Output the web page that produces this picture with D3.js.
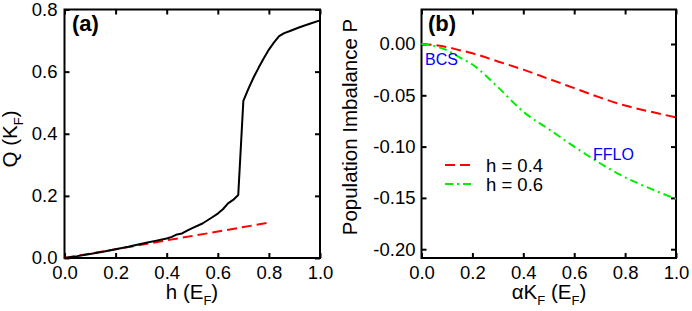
<!DOCTYPE html>
<html>
<head>
<meta charset="utf-8">
<script src="https://cdn.jsdelivr.net/npm/d3@7"></script>
<style>
  html, body { margin: 0; padding: 0; background: #fff; }
  svg { display: block; font-family: "Liberation Sans", Arial, Helvetica, sans-serif; }
</style>
</head>
<body>
<svg id="chart" width="692" height="311"></svg>
<script>
// ---- Data: panel (a) ----
const hBlack = [0, 0.05, 0.1, 0.15, 0.2, 0.25, 0.28, 0.32, 0.36, 0.4, 0.42, 0.44, 0.46, 0.48, 0.5, 0.54, 0.58, 0.6, 0.62, 0.64, 0.66, 0.68, 0.70, 0.72, 0.74, 0.76, 0.78, 0.80, 0.82, 0.84, 0.86, 0.88, 0.92, 0.96, 1.0];
const qBlack = [0, 0.006, 0.013, 0.020, 0.028, 0.036, 0.042, 0.049, 0.056, 0.063, 0.068, 0.076, 0.079, 0.088, 0.096, 0.111, 0.132, 0.143, 0.157, 0.176, 0.187, 0.203, 0.506, 0.545, 0.581, 0.613, 0.643, 0.671, 0.694, 0.714, 0.724, 0.730, 0.743, 0.754, 0.765];
const hRed = [0, 0.2, 0.4, 0.6, 0.8];
const qRed = [0, 0.028, 0.057, 0.085, 0.114];
const aXTicks = [0, 0.2, 0.4, 0.6, 0.8, 1.0];
const aXLabels = ["0.0", "0.2", "0.4", "0.6", "0.8", "1.0"];
const aYTicks = [0, 0.2, 0.4, 0.6, 0.8];
const aYLabels = ["0.0", "0.2", "0.4", "0.6", "0.8"];

// ---- Data: panel (b) ----
const alphaK = [0, 0.05, 0.1, 0.15, 0.2, 0.3, 0.4, 0.5, 0.6, 0.7, 0.8, 0.9, 1.0];
const pH04 = [0, -0.001, -0.003, -0.006, -0.009, -0.017, -0.025, -0.034, -0.043, -0.052, -0.060, -0.066, -0.0715];
const pH06 = [0, -0.002, -0.006, -0.013, -0.020, -0.042, -0.066, -0.083, -0.100, -0.116, -0.130, -0.141, -0.151];
const bXTicks = [0, 0.2, 0.4, 0.6, 0.8, 1.0];
const bXLabels = ["0.0", "0.2", "0.4", "0.6", "0.8", "1.0"];
const bYTicks = [0, -0.05, -0.10, -0.15, -0.20];
const bYLabels = ["0.00", "-0.05", "-0.10", "-0.15", "-0.20"];
const legendLabels = ["h = 0.4", "h = 0.6"];

const RED = "#ff0000", GREEN = "#00ee00", BLUE = "#0000ff";
const TICKFONT = 18.5, TITLEFONT = 20.5;

const svg = d3.select("#chart");

function framePanel(g, x, y, xt, xl, yt, yl, ypad) {
  const [x0, x1] = x.range();
  const [y0, y1] = y.range(); // y0 bottom, y1 top
  const bottom = g.append("g").attr("transform", `translate(0,${y0})`)
    .call(d3.axisBottom(x).tickValues(xt).tickFormat((d, i) => xl[i]).tickSize(-5).tickPadding(8));
  const top = g.append("g").attr("transform", `translate(0,${y1})`)
    .call(d3.axisTop(x).tickValues(xt).tickFormat("").tickSize(-5));
  const left = g.append("g").attr("transform", `translate(${x0},0)`)
    .call(d3.axisLeft(y).tickValues(yt).tickFormat((d, i) => yl[i]).tickSize(-5).tickPadding(ypad));
  const right = g.append("g").attr("transform", `translate(${x1},0)`)
    .call(d3.axisRight(y).tickValues(yt).tickFormat("").tickSize(-5));
  [bottom, top, left, right].forEach(a => {
    a.select(".domain").remove();
    a.selectAll("line").attr("stroke", "#000").attr("stroke-width", 2);
    a.selectAll("text").attr("font-size", TICKFONT).attr("fill", "#000").attr("font-family", null);
  });
  g.append("rect").attr("x", x0).attr("y", y1).attr("width", x1 - x0).attr("height", y0 - y1)
    .attr("fill", "none").attr("stroke", "#000").attr("stroke-width", 2);
}

// ---- Panel (a) ----
const ga = svg.append("g");
const xa = d3.scaleLinear().domain([0, 1]).range([64.5, 320]);
const ya = d3.scaleLinear().domain([0, 0.8]).range([258, 9.5]);
framePanel(ga, xa, ya, aXTicks, aXLabels, aYTicks, aYLabels, 7);

const lineA = d3.line().x(d => xa(d[0])).y(d => ya(d[1]));
ga.append("path").datum(hRed.map((h, i) => [h, qRed[i]]))
  .attr("d", lineA).attr("fill", "none").attr("stroke", RED).attr("stroke-width", 2)
  .attr("stroke-dasharray", "10,5");
ga.append("path").datum(hBlack.map((h, i) => [h, qBlack[i]]))
  .attr("d", lineA).attr("fill", "none").attr("stroke", "#000").attr("stroke-width", 2)
  .attr("stroke-linejoin", "round");

ga.append("text").attr("x", 72).attr("y", 31).attr("font-size", 22).attr("font-weight", "bold").text("(a)");

// axis titles (a)
const ta = ga.append("text").attr("x", 192).attr("y", 299).attr("text-anchor", "middle").attr("font-size", TITLEFONT);
ta.append("tspan").text("h (E");
ta.append("tspan").attr("font-size", 13).attr("dy", 6).text("F");
ta.append("tspan").attr("dy", -6).text(")");

const tqa = ga.append("text").attr("transform", "translate(16.5,139) rotate(-90)").attr("text-anchor", "middle").attr("font-size", TITLEFONT);
tqa.append("tspan").text("Q (K");
tqa.append("tspan").attr("font-size", 13).attr("dy", 6).text("F");
tqa.append("tspan").attr("dy", -6).text(")");

// ---- Panel (b) ----
const gb = svg.append("g");
const xb = d3.scaleLinear().domain([0, 1]).range([421.5, 676]);
const yb = d3.scaleLinear().domain([-0.2, 0]).range([249.2, 44]);
const ybFull = d3.scaleLinear().domain([yb.invert(258), yb.invert(9.5)]).range([258, 9.5]);
framePanel(gb, xb, ybFull, bXTicks, bXLabels, bYTicks, bYLabels, 6);

const lineB = d3.line().x(d => xb(d[0])).y(d => ybFull(d[1])).curve(d3.curveMonotoneX);
gb.append("path").datum(alphaK.map((a, i) => [a, pH04[i]]))
  .attr("d", lineB).attr("fill", "none").attr("stroke", RED).attr("stroke-width", 2)
  .attr("stroke-dasharray", "10,5");
gb.append("path").datum(alphaK.map((a, i) => [a, pH06[i]]))
  .attr("d", lineB).attr("fill", "none").attr("stroke", GREEN).attr("stroke-width", 2)
  .attr("stroke-dasharray", "8,4,2,4");

gb.append("text").attr("x", 428).attr("y", 31).attr("font-size", 22).attr("font-weight", "bold").text("(b)");
gb.append("text").attr("x", 425).attr("y", 65).attr("font-size", 16).attr("fill", BLUE).text("BCS");
gb.append("text").attr("x", 593).attr("y", 160).attr("font-size", 16).attr("fill", BLUE).text("FFLO");

// legend
const legendColors = [RED, GREEN];
const legendDash = ["10,5", "8,4,2,4"];
const legendY = [165, 184];
legendLabels.forEach((lab, i) => {
  gb.append("line").attr("x1", 445).attr("x2", 473).attr("y1", legendY[i]).attr("y2", legendY[i])
    .attr("stroke", legendColors[i]).attr("stroke-width", 2).attr("stroke-dasharray", legendDash[i]);
  gb.append("text").attr("x", 486).attr("y", legendY[i] + 6.7).attr("font-size", TICKFONT).text(lab);
});

// axis titles (b)
const tb = gb.append("text").attr("x", 549).attr("y", 299).attr("text-anchor", "middle").attr("font-size", TITLEFONT);
tb.append("tspan").text("\u03B1K");
tb.append("tspan").attr("font-size", 13).attr("dy", 6).text("F");
tb.append("tspan").attr("dy", -6).text(" (E");
tb.append("tspan").attr("font-size", 13).attr("dy", 6).text("F");
tb.append("tspan").attr("dy", -6).text(")");

gb.append("text").attr("transform", "translate(357,127) rotate(-90)").attr("text-anchor", "middle")
  .attr("font-size", TITLEFONT).text("Population Imbalance P");
</script>
</body>
</html>
